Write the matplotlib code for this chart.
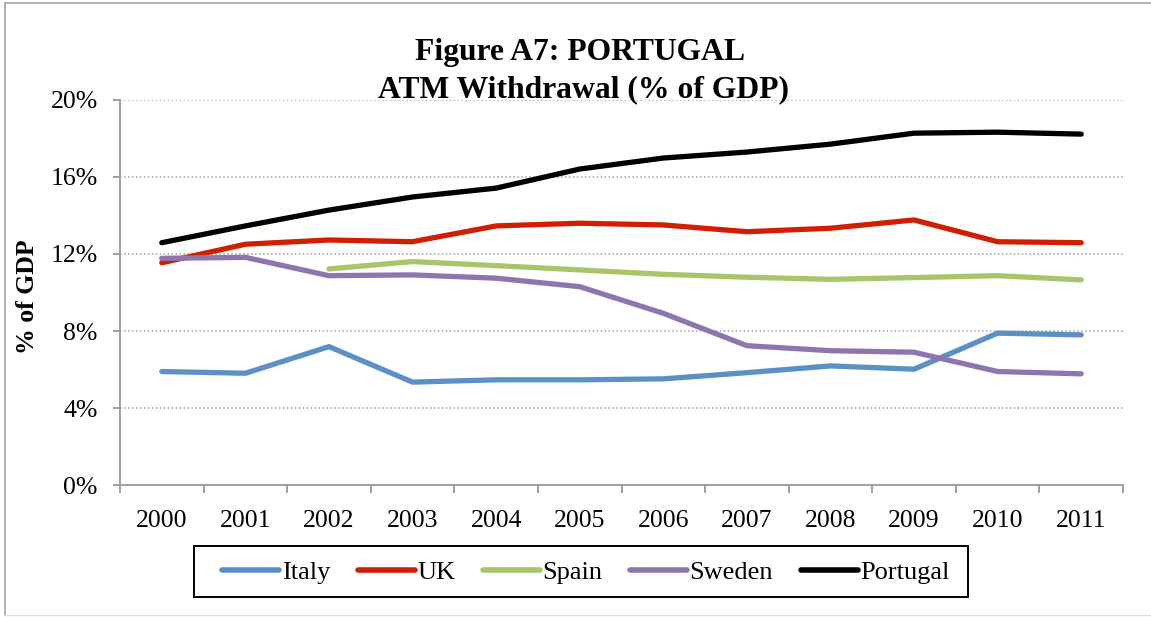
import matplotlib
matplotlib.use("Agg")
import matplotlib.pyplot as plt
from matplotlib.lines import Line2D
from matplotlib.patches import Rectangle
import numpy as np

years = ["2000", "2001", "2002", "2003", "2004", "2005",
         "2006", "2007", "2008", "2009", "2010", "2011"]
italy = [5.90, 5.81, 7.19, 5.35, 5.47, 5.47, 5.52, 5.84, 6.19, 6.02, 7.89, 7.80]
uk = [11.54, 12.50, 12.72, 12.63, 13.45, 13.59, 13.50, 13.15, 13.33, 13.76, 12.63, 12.58]
spain = [None, None, 11.22, 11.60, 11.39, 11.17, 10.94, 10.79, 10.68, 10.77, 10.87, 10.65]
sweden = [11.77, 11.82, 10.87, 10.91, 10.74, 10.30, 8.92, 7.24, 6.98, 6.90, 5.90, 5.78]
portugal = [12.58, 13.45, 14.27, 14.95, 15.41, 16.40, 16.97, 17.28, 17.69, 18.26, 18.31, 18.21]
series_names = ["Italy", "UK", "Spain", "Sweden", "Portugal"]
series_values = [italy, uk, spain, sweden, portugal]
series_colors = ["#5B90C7", "#D01E00", "#A9C469", "#8F75B0", "#000000"]
yticks = [0, 4, 8, 12, 16, 20]

plt.rcParams['font.family'] = ['Liberation Serif', 'DejaVu Serif']

W, H = 1151, 617
fig = plt.figure(figsize=(W / 100, H / 100), dpi=100)

# figure border
gray_border = "#A6A6A6"
fig.add_artist(Line2D([5 / W, 5 / W], [1 - 3 / H, 1 - 615 / H], transform=fig.transFigure, color=gray_border, lw=1.2))
fig.add_artist(Line2D([5 / W, 1.0], [1 - 3 / H, 1 - 3 / H], transform=fig.transFigure, color=gray_border, lw=1.2))
fig.add_artist(Line2D([5 / W, 1.0], [1 - 615 / H, 1 - 615 / H], transform=fig.transFigure, color="#E0E0E0", lw=1.0))

left, right, top, bottom = 120, 1123, 99.6, 485.3
ax = fig.add_axes([left / W, 1 - bottom / H, (right - left) / W, (bottom - top) / H])

x = np.arange(len(years))
for name, vals, col in zip(series_names, series_values, series_colors):
    y = np.array([np.nan if v is None else v for v in vals], dtype=float)
    ax.plot(x, y, color=col, lw=3.8, solid_capstyle='round', solid_joinstyle='round', label=name)

ax.set_xlim(-0.5, len(years) - 0.5)
ax.set_ylim(0, 20)
ax.set_yticks(yticks)
ax.set_yticklabels([f"{v}%" for v in yticks])
ax.set_xticks(x)
ax.set_xticklabels(years)
ax.set_xticks(np.arange(-0.5, len(years), 1.0), minor=True)

axis_gray = "#A0A0A0"
for s in ["top", "right"]:
    ax.spines[s].set_visible(False)
for s in ["left", "bottom"]:
    ax.spines[s].set_color(axis_gray)
    ax.spines[s].set_linewidth(1.4)

ax.tick_params(axis='y', which='major', length=5, width=1.4, color=axis_gray, labelsize=18.5, pad=11)
ax.tick_params(axis='x', which='major', length=0, labelsize=18.5, pad=18)
ax.tick_params(axis='x', which='minor', length=6, width=1.4, color=axis_gray, direction='out')

for v in yticks[1:]:
    ax.axhline(v, color="#A0A0A0", lw=1.1, ls=(0, (1, 1.6)), zorder=0)

fig.text(27 / W, 1 - 297 / H, "% of GDP", rotation=90, ha='center', va='center',
         fontsize=18.5, fontweight='bold')

fig.text(580 / W, 1 - 60 / H, "Figure A7: PORTUGAL", ha='center', va='baseline',
         fontsize=22.8, fontweight='bold')
fig.text(583 / W, 1 - 97 / H, "ATM Withdrawal (% of GDP)", ha='center', va='baseline',
         fontsize=22.8, fontweight='bold')

# legend frame drawn explicitly
fig.add_artist(Rectangle((194 / W, 1 - 597 / H), (968 - 194) / W, (597 - 546) / H,
                         transform=fig.transFigure, fill=False, edgecolor='black', lw=1.4))
leg = fig.legend(loc='center', bbox_to_anchor=(586 / W, 1 - 572 / H), ncol=5,
                 fontsize=19, frameon=False,
                 handlelength=2.15, handletextpad=0.1, columnspacing=1.05,
                 borderpad=0.0, borderaxespad=0)
for h in leg.get_lines():
    h.set_linewidth(4)
    h.set_solid_capstyle('round')

fig.savefig("out.png", dpi=100)
